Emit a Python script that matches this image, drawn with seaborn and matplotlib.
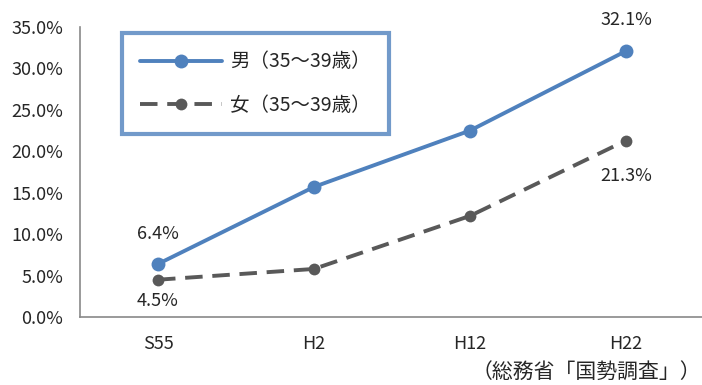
import pandas as pd
import matplotlib.pyplot as plt
import seaborn as sns

years = ['S55', 'H2', 'H12', 'H22']
men = [6.4, 15.7, 22.5, 32.1]
women = [4.5, 5.8, 12.2, 21.3]
label_men = '男（35～39歳）'
label_women = '女（35～39歳）'

sns.set_style('white')
plt.rcParams['font.family'] = ['Noto Sans CJK JP', 'DejaVu Sans']

df = pd.DataFrame({'year': years * 2,
                   'pct': men + women,
                   'sex': [label_men] * 4 + [label_women] * 4})

fig = plt.figure(figsize=(7.02, 3.85), dpi=100)
ax = fig.add_axes([80 / 702, 1 - 317 / 385, 624 / 702, 290 / 385])

sns.lineplot(data=df, x='year', y='pct', hue='sex', style='sex',
             palette=['#4f81bd', '#595959'],
             dashes=[(None, None), (4.5, 2.5)], markers=['o', 'o'],
             markeredgewidth=0, linewidth=2.8,
             sort=False, ax=ax, legend=True)
# marker sizes differ a bit between the two series
ax.lines[0].set_markersize(10)
ax.lines[1].set_markersize(8.5)

ax.set_xlim(-0.5, 3.5)
ax.set_ylim(0, 35)
ax.set_yticks(range(0, 36, 5))
ax.set_yticklabels([f'{v:.1f}%' for v in range(0, 36, 5)], fontsize=13)
ax.set_xticks(range(4))
ax.set_xticklabels(years, fontsize=13)
ax.set_xticks([0.5, 1.5, 2.5], minor=True)
ax.tick_params(axis='x', which='major', length=0, pad=13)
ax.tick_params(axis='x', which='minor', length=5, color='#898989', width=1.2)
ax.tick_params(axis='y', length=5, color='#898989', width=1.2, pad=7)
ax.set_xlabel('')
ax.set_ylabel('')
for s in ['top', 'right']:
    ax.spines[s].set_visible(False)
for s in ['left', 'bottom']:
    ax.spines[s].set_color('#898989')
    ax.spines[s].set_linewidth(1.2)

# data labels
ax.annotate(f'{men[0]}%', (0, men[0]), xytext=(0, 15), textcoords='offset points',
            ha='center', va='bottom', fontsize=13)
ax.annotate(f'{women[0]}%', (0, women[0]), xytext=(0, -9), textcoords='offset points',
            ha='center', va='top', fontsize=13)
ax.annotate(f'{men[3]}%', (3, men[3]), xytext=(0, 16), textcoords='offset points',
            ha='center', va='bottom', fontsize=13)
ax.annotate(f'{women[3]}%', (3, women[3]), xytext=(0, -19), textcoords='offset points',
            ha='center', va='top', fontsize=13)

handles, labels = ax.get_legend_handles_labels()
handles[0].set_markersize(10)
handles[1].set_markersize(8.5)
leg = ax.legend(handles, labels, loc='upper left',
                bbox_to_anchor=(42 / 624, 1 - 6 / 290),
                fontsize=14, frameon=True, fancybox=False, handlelength=4.2,
                borderpad=0.95, labelspacing=1.15, handletextpad=0.4, borderaxespad=0)
leg.get_frame().set_edgecolor('#4f81bd')
leg.get_frame().set_linewidth(3)

fig.text(701 / 702, 1 - 372 / 385, '（総務省「国勢調査」）', ha='right', va='center', fontsize=15)

plt.savefig('out.png', dpi=100)
